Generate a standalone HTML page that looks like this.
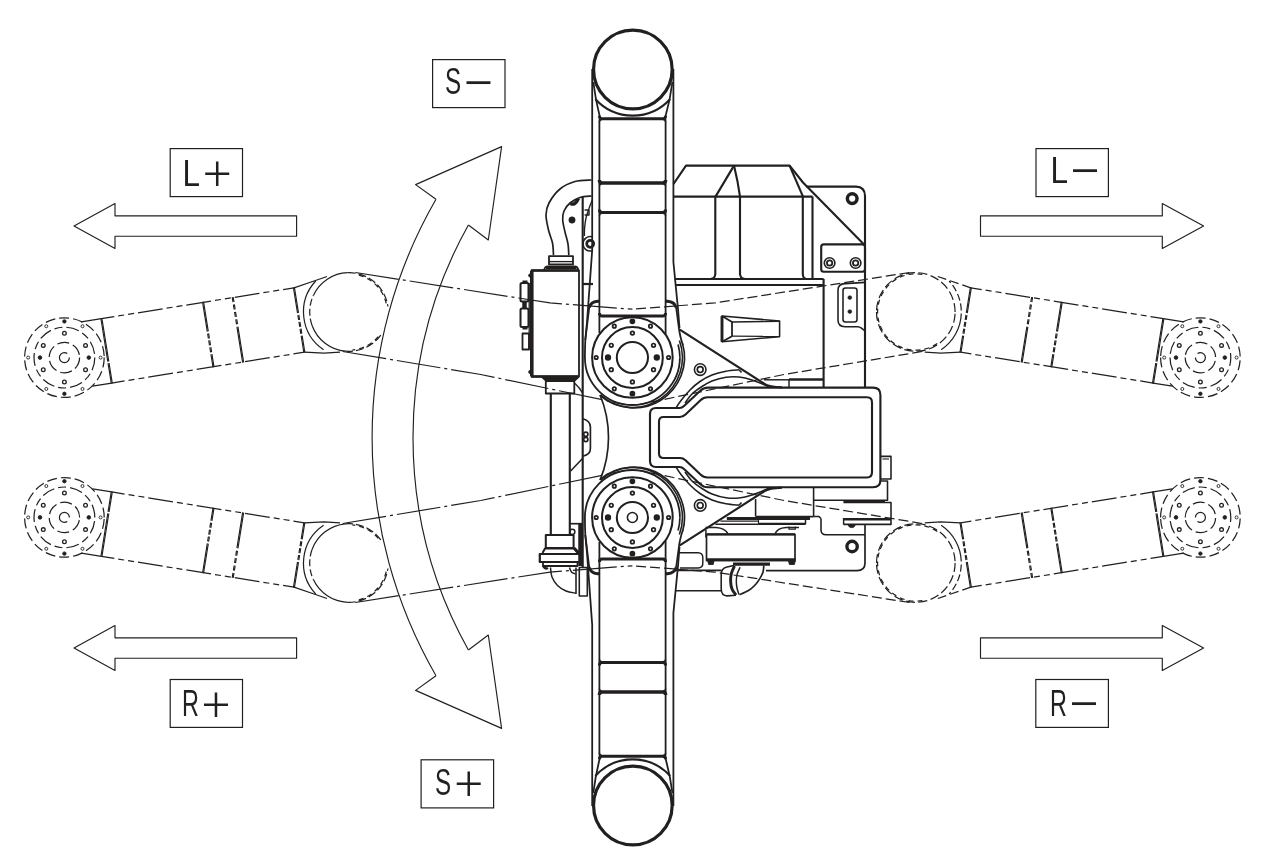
<!DOCTYPE html>
<html lang="ja"><head><meta charset="utf-8"><title>S / L / R axis motion</title>
<style>
html,body{margin:0;padding:0;background:#fff}
svg{display:block;will-change:transform}
.t{font-family:"Liberation Sans","IPAGothic",sans-serif;font-size:37px;fill:#221f1f}
.s{font-size:35px}
</style></head><body>
<svg width="1270" height="867" viewBox="0 0 1270 867">
<rect width="1270" height="867" fill="#fff"/>
<g fill="none" stroke="#221f1f" stroke-linecap="butt" stroke-linejoin="round">
<g class="ph">
<path d="M355.34 272.51 L549.98 302.94 L632.4 309.23" stroke-width="1.22" stroke-dasharray="44 4 3 4"/>
<path d="M342.66 351.49 L480.76 374.48 L624.87 404.4" stroke-width="1.22" stroke-dasharray="44 4 3 4"/>
<path d="M345.57 351.15 A39.3 39.3 0 0 1 312.07 325.44" stroke-width="1.22" />
<path d="M312.07 325.44 A39.3 39.3 0 0 1 313.38 295.39" stroke-width="1.22" stroke-dasharray="7 3"/>
<path d="M313.38 295.39 A39.3 39.3 0 0 1 347.63 272.72" stroke-width="1.22" />
<path d="M347.63 272.72 A39.3 39.3 0 0 1 387.92 306.53" stroke-width="1.22" stroke-dasharray="8 3"/>
<path d="M358.89 275.1 A38.2 38.2 0 0 1 386.62 305.37" stroke-width="1.22" stroke-dasharray="5 4"/>
<path d="M380.79 335.1 A39.3 39.3 0 0 1 345.57 351.15" stroke-width="1.22" stroke-dasharray="8 3"/>
<path d="M378.26 336.55 A38.2 38.2 0 0 1 352.33 350.05" stroke-width="1.22" stroke-dasharray="5 4"/>
<path d="M323.62 349.77 A45.5 45.5 0 0 1 315.67 281.03" stroke-width="1.22" />
<path d="M293.98 287.8 L101.43 318.65" stroke-width="1.22" stroke-dasharray="25 4 6 4 6 4" stroke-dashoffset="14"/>
<path d="M304.29 352.18 L111.75 383.03" stroke-width="1.22" stroke-dasharray="25 4 6 4 6 4" stroke-dashoffset="14"/>
<path d="M293.98 287.8 L314 281 L327 276.5" stroke-width="1.22" />
<path d="M304.29 352.18 L324 353.2 L340 352.2" stroke-width="1.22" />
<path d="M101.43 318.65 L81.19 321.89" stroke-width="1.22" />
<path d="M111.75 383.03 L92.49 386.11" stroke-width="1.22" />
<path d="M294.39 287.23 L304.87 352.59" stroke-width="1.15" stroke-dasharray="26 2 5 2 5 2 5 2 50"/>
<path d="M293.41 287.39 L303.88 352.75" stroke-width="1.15" stroke-dasharray="26 2 5 2 5 2 5 2 50"/>
<path d="M233.17 297.04 L243.65 362.4" stroke-width="1.15" stroke-dasharray="5 2.5 5 2.5 5 2.5 5 2.5 60"/>
<path d="M232.19 297.19 L242.66 362.56" stroke-width="1.15" stroke-dasharray="5 2.5 5 2.5 5 2.5 5 2.5 60"/>
<path d="M203.55 301.78 L214.03 367.15" stroke-width="1.15" stroke-dasharray="30 2 5 2 5 2 5 2 50"/>
<path d="M202.56 301.94 L213.04 367.31" stroke-width="1.15" stroke-dasharray="30 2 5 2 5 2 5 2 50"/>
<path d="M101.85 318.08 L112.32 383.44" stroke-width="1.15" stroke-dasharray="44 1.5 60"/>
<path d="M100.86 318.24 L111.33 383.6" stroke-width="1.15" stroke-dasharray="44 1.5 60"/>
<circle cx="64.4" cy="357.6" r="39.8" stroke-width="1.22" stroke-dasharray="10 4"/>
<circle cx="64.4" cy="357.6" r="30.4" stroke-width="1.22" stroke-dasharray="13 4 8 4"/>
<circle cx="64.4" cy="357.6" r="15.2" stroke-width="1.22" stroke-dasharray="12 4"/>
<circle cx="64.4" cy="357.6" r="5" stroke-width="1.22" stroke-dasharray="26 6"/>
<circle cx="100.6" cy="357.6" r="1.5" stroke-width="0.9" />
<circle cx="82.5" cy="326.25" r="1.5" stroke-width="0.9" />
<circle cx="64.4" cy="321.4" r="1.7" stroke-width="0.9" fill="#221f1f"/>
<circle cx="46.3" cy="326.25" r="1.5" stroke-width="0.9" />
<circle cx="28.2" cy="357.6" r="1.5" stroke-width="0.9" />
<circle cx="46.3" cy="388.95" r="1.5" stroke-width="0.9" />
<circle cx="64.4" cy="393.8" r="1.7" stroke-width="0.9" fill="#221f1f"/>
<circle cx="82.5" cy="388.95" r="1.5" stroke-width="0.9" />
<circle cx="88.8" cy="357.6" r="1.8" stroke-width="0.9" fill="#221f1f"/>
<circle cx="85.53" cy="345.4" r="1.85" stroke-width="1.3" />
<circle cx="64.4" cy="333.2" r="1.85" stroke-width="1.3" />
<circle cx="43.27" cy="345.4" r="1.85" stroke-width="1.3" />
<circle cx="40" cy="357.6" r="1.8" stroke-width="0.9" fill="#221f1f"/>
<circle cx="43.27" cy="369.8" r="1.85" stroke-width="1.3" />
<circle cx="64.4" cy="382" r="1.85" stroke-width="1.3" />
<circle cx="85.53" cy="369.8" r="1.85" stroke-width="1.3" />
</g>
<g class="ph" transform="translate(0,875) scale(1,-1)">
<path d="M355.34 272.51 L549.98 302.94 L632.4 309.23" stroke-width="1.22" stroke-dasharray="44 4 3 4"/>
<path d="M342.66 351.49 L480.76 374.48 L624.87 404.4" stroke-width="1.22" stroke-dasharray="44 4 3 4"/>
<path d="M345.57 351.15 A39.3 39.3 0 0 1 312.07 325.44" stroke-width="1.22" />
<path d="M312.07 325.44 A39.3 39.3 0 0 1 313.38 295.39" stroke-width="1.22" stroke-dasharray="7 3"/>
<path d="M313.38 295.39 A39.3 39.3 0 0 1 347.63 272.72" stroke-width="1.22" />
<path d="M347.63 272.72 A39.3 39.3 0 0 1 387.92 306.53" stroke-width="1.22" stroke-dasharray="8 3"/>
<path d="M358.89 275.1 A38.2 38.2 0 0 1 386.62 305.37" stroke-width="1.22" stroke-dasharray="5 4"/>
<path d="M380.79 335.1 A39.3 39.3 0 0 1 345.57 351.15" stroke-width="1.22" stroke-dasharray="8 3"/>
<path d="M378.26 336.55 A38.2 38.2 0 0 1 352.33 350.05" stroke-width="1.22" stroke-dasharray="5 4"/>
<path d="M323.62 349.77 A45.5 45.5 0 0 1 315.67 281.03" stroke-width="1.22" />
<path d="M293.98 287.8 L101.43 318.65" stroke-width="1.22" stroke-dasharray="25 4 6 4 6 4" stroke-dashoffset="14"/>
<path d="M304.29 352.18 L111.75 383.03" stroke-width="1.22" stroke-dasharray="25 4 6 4 6 4" stroke-dashoffset="14"/>
<path d="M293.98 287.8 L314 281 L327 276.5" stroke-width="1.22" />
<path d="M304.29 352.18 L324 353.2 L340 352.2" stroke-width="1.22" />
<path d="M101.43 318.65 L81.19 321.89" stroke-width="1.22" />
<path d="M111.75 383.03 L92.49 386.11" stroke-width="1.22" />
<path d="M294.39 287.23 L304.87 352.59" stroke-width="1.15" stroke-dasharray="26 2 5 2 5 2 5 2 50"/>
<path d="M293.41 287.39 L303.88 352.75" stroke-width="1.15" stroke-dasharray="26 2 5 2 5 2 5 2 50"/>
<path d="M233.17 297.04 L243.65 362.4" stroke-width="1.15" stroke-dasharray="5 2.5 5 2.5 5 2.5 5 2.5 60"/>
<path d="M232.19 297.19 L242.66 362.56" stroke-width="1.15" stroke-dasharray="5 2.5 5 2.5 5 2.5 5 2.5 60"/>
<path d="M203.55 301.78 L214.03 367.15" stroke-width="1.15" stroke-dasharray="30 2 5 2 5 2 5 2 50"/>
<path d="M202.56 301.94 L213.04 367.31" stroke-width="1.15" stroke-dasharray="30 2 5 2 5 2 5 2 50"/>
<path d="M101.85 318.08 L112.32 383.44" stroke-width="1.15" stroke-dasharray="44 1.5 60"/>
<path d="M100.86 318.24 L111.33 383.6" stroke-width="1.15" stroke-dasharray="44 1.5 60"/>
<circle cx="64.4" cy="357.6" r="39.8" stroke-width="1.22" stroke-dasharray="10 4"/>
<circle cx="64.4" cy="357.6" r="30.4" stroke-width="1.22" stroke-dasharray="13 4 8 4"/>
<circle cx="64.4" cy="357.6" r="15.2" stroke-width="1.22" stroke-dasharray="12 4"/>
<circle cx="64.4" cy="357.6" r="5" stroke-width="1.22" stroke-dasharray="26 6"/>
<circle cx="100.6" cy="357.6" r="1.5" stroke-width="0.9" />
<circle cx="82.5" cy="326.25" r="1.5" stroke-width="0.9" />
<circle cx="64.4" cy="321.4" r="1.7" stroke-width="0.9" fill="#221f1f"/>
<circle cx="46.3" cy="326.25" r="1.5" stroke-width="0.9" />
<circle cx="28.2" cy="357.6" r="1.5" stroke-width="0.9" />
<circle cx="46.3" cy="388.95" r="1.5" stroke-width="0.9" />
<circle cx="64.4" cy="393.8" r="1.7" stroke-width="0.9" fill="#221f1f"/>
<circle cx="82.5" cy="388.95" r="1.5" stroke-width="0.9" />
<circle cx="88.8" cy="357.6" r="1.8" stroke-width="0.9" fill="#221f1f"/>
<circle cx="85.53" cy="345.4" r="1.85" stroke-width="1.3" />
<circle cx="64.4" cy="333.2" r="1.85" stroke-width="1.3" />
<circle cx="43.27" cy="345.4" r="1.85" stroke-width="1.3" />
<circle cx="40" cy="357.6" r="1.8" stroke-width="0.9" fill="#221f1f"/>
<circle cx="43.27" cy="369.8" r="1.85" stroke-width="1.3" />
<circle cx="64.4" cy="382" r="1.85" stroke-width="1.3" />
<circle cx="85.53" cy="369.8" r="1.85" stroke-width="1.3" />
</g>
<g class="ph2" transform="translate(1264.8,0) scale(-1,1)">
<path d="M355.34 272.51 L549.98 302.94 L632.4 309.23" stroke-width="1.22" stroke-dasharray="10 4"/>
<path d="M342.66 351.49 L480.76 374.48 L624.87 404.4" stroke-width="1.22" stroke-dasharray="10 4"/>
<path d="M388.3 312 A39.3 39.3 0 0 1 309.7 312" stroke-width="1.22" stroke-dasharray="9 3.5"/>
<path d="M309.7 312 A39.3 39.3 0 0 1 388.3 311.93" stroke-width="1.22" stroke-dasharray="9 3.5"/>
<path d="M342.37 274.38 A38.2 38.2 0 1 1 324.45 341.26" stroke-width="1.22" stroke-dasharray="5 4"/>
<path d="M323.62 349.77 A45.5 45.5 0 0 1 315.67 281.03" stroke-width="1.22" stroke-dasharray="43 3 7 3 7 3 7 3 7 3"/>
<path d="M293.98 287.8 L101.43 318.65" stroke-width="1.22" stroke-dasharray="25 4 6 4 6 4" stroke-dashoffset="14"/>
<path d="M304.29 352.18 L111.75 383.03" stroke-width="1.22" stroke-dasharray="25 4 6 4 6 4" stroke-dashoffset="14"/>
<path d="M293.98 287.8 L314 281 L327 276.5" stroke-width="1.22" stroke-dasharray="9 4"/>
<path d="M304.29 352.18 L324 353.2 L340 352.2" stroke-width="1.22" />
<path d="M101.43 318.65 L81.19 321.89" stroke-width="1.22" />
<path d="M111.75 383.03 L92.49 386.11" stroke-width="1.22" />
<path d="M294.39 287.23 L304.87 352.59" stroke-width="1.15" stroke-dasharray="26 2 5 2 5 2 5 2 50"/>
<path d="M293.41 287.39 L303.88 352.75" stroke-width="1.15" stroke-dasharray="26 2 5 2 5 2 5 2 50"/>
<path d="M233.17 297.04 L243.65 362.4" stroke-width="1.15" stroke-dasharray="5 2.5 5 2.5 5 2.5 5 2.5 60"/>
<path d="M232.19 297.19 L242.66 362.56" stroke-width="1.15" stroke-dasharray="5 2.5 5 2.5 5 2.5 5 2.5 60"/>
<path d="M203.55 301.78 L214.03 367.15" stroke-width="1.15" stroke-dasharray="30 2 5 2 5 2 5 2 50"/>
<path d="M202.56 301.94 L213.04 367.31" stroke-width="1.15" stroke-dasharray="30 2 5 2 5 2 5 2 50"/>
<path d="M101.85 318.08 L112.32 383.44" stroke-width="1.15" stroke-dasharray="44 1.5 60"/>
<path d="M100.86 318.24 L111.33 383.6" stroke-width="1.15" stroke-dasharray="44 1.5 60"/>
<circle cx="64.4" cy="357.6" r="39.8" stroke-width="1.22" stroke-dasharray="10 4"/>
<circle cx="64.4" cy="357.6" r="30.4" stroke-width="1.22" stroke-dasharray="13 4 8 4"/>
<circle cx="64.4" cy="357.6" r="15.2" stroke-width="1.22" stroke-dasharray="12 4"/>
<circle cx="64.4" cy="357.6" r="5" stroke-width="1.22" stroke-dasharray="26 6"/>
<circle cx="100.6" cy="357.6" r="1.5" stroke-width="0.9" />
<circle cx="82.5" cy="326.25" r="1.5" stroke-width="0.9" />
<circle cx="64.4" cy="321.4" r="1.7" stroke-width="0.9" fill="#221f1f"/>
<circle cx="46.3" cy="326.25" r="1.5" stroke-width="0.9" />
<circle cx="28.2" cy="357.6" r="1.5" stroke-width="0.9" />
<circle cx="46.3" cy="388.95" r="1.5" stroke-width="0.9" />
<circle cx="64.4" cy="393.8" r="1.7" stroke-width="0.9" fill="#221f1f"/>
<circle cx="82.5" cy="388.95" r="1.5" stroke-width="0.9" />
<circle cx="88.8" cy="357.6" r="1.8" stroke-width="0.9" fill="#221f1f"/>
<circle cx="85.53" cy="345.4" r="1.85" stroke-width="1.3" />
<circle cx="64.4" cy="333.2" r="1.85" stroke-width="1.3" />
<circle cx="43.27" cy="345.4" r="1.85" stroke-width="1.3" />
<circle cx="40" cy="357.6" r="1.8" stroke-width="0.9" fill="#221f1f"/>
<circle cx="43.27" cy="369.8" r="1.85" stroke-width="1.3" />
<circle cx="64.4" cy="382" r="1.85" stroke-width="1.3" />
<circle cx="85.53" cy="369.8" r="1.85" stroke-width="1.3" />
</g>
<g class="ph2" transform="translate(1264.8,875) scale(-1,-1)">
<path d="M355.34 272.51 L549.98 302.94 L632.4 309.23" stroke-width="1.22" stroke-dasharray="10 4"/>
<path d="M342.66 351.49 L480.76 374.48 L624.87 404.4" stroke-width="1.22" stroke-dasharray="10 4"/>
<path d="M388.3 312 A39.3 39.3 0 0 1 309.7 312" stroke-width="1.22" stroke-dasharray="9 3.5"/>
<path d="M309.7 312 A39.3 39.3 0 0 1 388.3 311.93" stroke-width="1.22" stroke-dasharray="9 3.5"/>
<path d="M342.37 274.38 A38.2 38.2 0 1 1 324.45 341.26" stroke-width="1.22" stroke-dasharray="5 4"/>
<path d="M323.62 349.77 A45.5 45.5 0 0 1 315.67 281.03" stroke-width="1.22" stroke-dasharray="43 3 7 3 7 3 7 3 7 3"/>
<path d="M293.98 287.8 L101.43 318.65" stroke-width="1.22" stroke-dasharray="25 4 6 4 6 4" stroke-dashoffset="14"/>
<path d="M304.29 352.18 L111.75 383.03" stroke-width="1.22" stroke-dasharray="25 4 6 4 6 4" stroke-dashoffset="14"/>
<path d="M293.98 287.8 L314 281 L327 276.5" stroke-width="1.22" stroke-dasharray="9 4"/>
<path d="M304.29 352.18 L324 353.2 L340 352.2" stroke-width="1.22" />
<path d="M101.43 318.65 L81.19 321.89" stroke-width="1.22" />
<path d="M111.75 383.03 L92.49 386.11" stroke-width="1.22" />
<path d="M294.39 287.23 L304.87 352.59" stroke-width="1.15" stroke-dasharray="26 2 5 2 5 2 5 2 50"/>
<path d="M293.41 287.39 L303.88 352.75" stroke-width="1.15" stroke-dasharray="26 2 5 2 5 2 5 2 50"/>
<path d="M233.17 297.04 L243.65 362.4" stroke-width="1.15" stroke-dasharray="5 2.5 5 2.5 5 2.5 5 2.5 60"/>
<path d="M232.19 297.19 L242.66 362.56" stroke-width="1.15" stroke-dasharray="5 2.5 5 2.5 5 2.5 5 2.5 60"/>
<path d="M203.55 301.78 L214.03 367.15" stroke-width="1.15" stroke-dasharray="30 2 5 2 5 2 5 2 50"/>
<path d="M202.56 301.94 L213.04 367.31" stroke-width="1.15" stroke-dasharray="30 2 5 2 5 2 5 2 50"/>
<path d="M101.85 318.08 L112.32 383.44" stroke-width="1.15" stroke-dasharray="44 1.5 60"/>
<path d="M100.86 318.24 L111.33 383.6" stroke-width="1.15" stroke-dasharray="44 1.5 60"/>
<circle cx="64.4" cy="357.6" r="39.8" stroke-width="1.22" stroke-dasharray="10 4"/>
<circle cx="64.4" cy="357.6" r="30.4" stroke-width="1.22" stroke-dasharray="13 4 8 4"/>
<circle cx="64.4" cy="357.6" r="15.2" stroke-width="1.22" stroke-dasharray="12 4"/>
<circle cx="64.4" cy="357.6" r="5" stroke-width="1.22" stroke-dasharray="26 6"/>
<circle cx="100.6" cy="357.6" r="1.5" stroke-width="0.9" />
<circle cx="82.5" cy="326.25" r="1.5" stroke-width="0.9" />
<circle cx="64.4" cy="321.4" r="1.7" stroke-width="0.9" fill="#221f1f"/>
<circle cx="46.3" cy="326.25" r="1.5" stroke-width="0.9" />
<circle cx="28.2" cy="357.6" r="1.5" stroke-width="0.9" />
<circle cx="46.3" cy="388.95" r="1.5" stroke-width="0.9" />
<circle cx="64.4" cy="393.8" r="1.7" stroke-width="0.9" fill="#221f1f"/>
<circle cx="82.5" cy="388.95" r="1.5" stroke-width="0.9" />
<circle cx="88.8" cy="357.6" r="1.8" stroke-width="0.9" fill="#221f1f"/>
<circle cx="85.53" cy="345.4" r="1.85" stroke-width="1.3" />
<circle cx="64.4" cy="333.2" r="1.85" stroke-width="1.3" />
<circle cx="43.27" cy="345.4" r="1.85" stroke-width="1.3" />
<circle cx="40" cy="357.6" r="1.8" stroke-width="0.9" fill="#221f1f"/>
<circle cx="43.27" cy="369.8" r="1.85" stroke-width="1.3" />
<circle cx="64.4" cy="382" r="1.85" stroke-width="1.3" />
<circle cx="85.53" cy="369.8" r="1.85" stroke-width="1.3" />
</g>
<path d="M436 199.3 A476 476 0 0 0 436 675.7" stroke-width="1.15" />
<path d="M468.4 225 A435.3 435.3 0 0 0 468.4 650" stroke-width="1.15" />
<path d="M436 199.3 L415.6 184.6 L501.6 146.6 L488.3 240 L468.4 225" stroke-width="1.15" />
<path d="M436 675.7 L415.6 690.4 L501.6 728.4 L488.3 635 L468.4 650" stroke-width="1.15" />
<path d="M74 226 L115 203.5 L115 215.8 L296.6 215.8 L296.6 236.2 L115 236.2 L115 248.5 Z" stroke-width="1.15" />
<path d="M74 648 L115 625.5 L115 637.8 L296.6 637.8 L296.6 658.2 L115 658.2 L115 670.5 Z" stroke-width="1.15" />
<path d="M1203.6 226 L1162.3 203.5 L1162.3 215.8 L980.5 215.8 L980.5 236.2 L1162.3 236.2 L1162.3 248.5 Z" stroke-width="1.15" />
<path d="M1203.6 648 L1162.3 625.5 L1162.3 637.8 L980.5 637.8 L980.5 658.2 L1162.3 658.2 L1162.3 670.5 Z" stroke-width="1.15" />
<g class="arm">
<circle cx="632.85" cy="69.5" r="39.3" stroke-width="3.19" />
<path d="M592.2 69 L592.2 250 L587 322 L585.3 340" stroke-width="1.79" />
<path d="M673.4 69 L673.4 262 L678 309 L679.5 328" stroke-width="1.79" />
<path d="M593.3 82 Q595.5 100 600 117.5 L599.4 121 V333" stroke-width="1.79" />
<path d="M672.4 82 Q670.2 100 665.2 117.5 L665.6 121 V334" stroke-width="1.79" />
<path d="M595.3 99 A50.5 50.5 0 0 0 670.2 99" stroke-width="2.02" />
<path d="M599.4 115.8 Q599.4 118.8 602 118.8 H662.8 Q665.6 118.8 665.6 115.8" stroke-width="2.91" />
<path d="M599.4 122.3 Q599.4 119.6 602 119.6 M662.8 119.6 Q665.6 119.6 665.6 122.3" stroke-width="1.34" />
<path d="M599.4 180 Q599.4 183 602 183 H662.8 Q665.6 183 665.6 180" stroke-width="3.47" />
<path d="M599.4 186.5 Q599.4 183.8 602 183.8 M662.8 183.8 Q665.6 183.8 665.6 186.5" stroke-width="1.34" />
<path d="M599.4 209.6 Q599.4 212.6 602 212.6 H662.8 Q665.6 212.6 665.6 209.6" stroke-width="3.02" />
<path d="M599.4 216.1 Q599.4 213.4 602 213.4 M662.8 213.4 Q665.6 213.4 665.6 216.1" stroke-width="1.34" />
<path d="M599.4 313 Q599.4 316 602 316 H662.8 Q665.6 316 665.6 313" stroke-width="2.91" />
</g>
<g class="arm" transform="translate(0,875) scale(1,-1)">
<circle cx="632.85" cy="69.5" r="39.3" stroke-width="3.19" />
<path d="M592.2 69 L592.2 250 L587 322 L585.3 340" stroke-width="1.79" />
<path d="M673.4 69 L673.4 262 L678 309 L679.5 328" stroke-width="1.79" />
<path d="M593.3 82 Q595.5 100 600 117.5 L599.4 121 V333" stroke-width="1.79" />
<path d="M672.4 82 Q670.2 100 665.2 117.5 L665.6 121 V334" stroke-width="1.79" />
<path d="M595.3 99 A50.5 50.5 0 0 0 670.2 99" stroke-width="2.02" />
<path d="M599.4 115.8 Q599.4 118.8 602 118.8 H662.8 Q665.6 118.8 665.6 115.8" stroke-width="2.91" />
<path d="M599.4 122.3 Q599.4 119.6 602 119.6 M662.8 119.6 Q665.6 119.6 665.6 122.3" stroke-width="1.34" />
<path d="M599.4 180 Q599.4 183 602 183 H662.8 Q665.6 183 665.6 180" stroke-width="3.47" />
<path d="M599.4 186.5 Q599.4 183.8 602 183.8 M662.8 183.8 Q665.6 183.8 665.6 186.5" stroke-width="1.34" />
<path d="M599.4 209.6 Q599.4 212.6 602 212.6 H662.8 Q665.6 212.6 665.6 209.6" stroke-width="3.02" />
<path d="M599.4 216.1 Q599.4 213.4 602 213.4 M662.8 213.4 Q665.6 213.4 665.6 216.1" stroke-width="1.34" />
<path d="M599.4 313 Q599.4 316 602 316 H662.8 Q665.6 316 665.6 313" stroke-width="2.91" />
</g>
<g class="yoke">
<path d="M599.4 301.3 H597.5 Q589.6 301.8 589 309.5 L585.3 340 Q584.9 350 584.9 357.5 A47.5 47.5 0 0 0 679.9 357.5" stroke-width="1.79" />
<path d="M665.1 301.3 H667.5 Q675.6 301.8 676.4 309.5 L679.3 331 Q681 340 682.9 345" stroke-width="1.79" />
<path d="M599 301.3 H597.5 Q590.6 301.8 589.4 307.5" stroke-width="2.91" />
<path d="M665.5 301.3 H667.5 Q674.6 301.8 676 307.5" stroke-width="2.91" />
<path d="M682.55 343.61 A50.4 50.4 0 0 1 600.38 394.95" stroke-width="1.68" />
<path d="M679.38 340.4 A50 50 0 0 1 599.6 395.24" stroke-width="1.57" />
<path d="M678.06 344.41 A47.5 47.5 0 0 1 679.9 357.5" stroke-width="1.68" />
<circle cx="632.4" cy="357.5" r="40.3" stroke-width="2.02" />
<circle cx="632.4" cy="357.5" r="30.4" stroke-width="2.02" />
<circle cx="632.4" cy="357.5" r="15.6" stroke-width="2.02" />
<circle cx="668.6" cy="357.5" r="1.7" stroke-width="1.74" />
<circle cx="650.5" cy="326.15" r="1.7" stroke-width="1.74" />
<circle cx="632.4" cy="321.3" r="2" stroke-width="1.74" fill="#221f1f"/>
<circle cx="614.3" cy="326.15" r="1.7" stroke-width="1.74" />
<circle cx="596.2" cy="357.5" r="1.7" stroke-width="1.74" />
<circle cx="614.3" cy="388.85" r="1.7" stroke-width="1.74" />
<circle cx="632.4" cy="393.7" r="2" stroke-width="1.74" fill="#221f1f"/>
<circle cx="650.5" cy="388.85" r="1.7" stroke-width="1.74" />
<circle cx="656.8" cy="357.5" r="2.3" stroke-width="1.74" fill="#221f1f"/>
<circle cx="653.53" cy="345.3" r="1.8" stroke-width="1.74" />
<circle cx="632.4" cy="333.1" r="1.8" stroke-width="1.74" />
<circle cx="611.27" cy="345.3" r="1.8" stroke-width="1.74" />
<circle cx="608" cy="357.5" r="2.3" stroke-width="1.74" fill="#221f1f"/>
<circle cx="611.27" cy="369.7" r="1.8" stroke-width="1.74" />
<circle cx="632.4" cy="381.9" r="1.8" stroke-width="1.74" />
<circle cx="653.53" cy="369.7" r="1.8" stroke-width="1.74" />
</g>
<g class="yoke" transform="translate(0,875) scale(1,-1)">
<path d="M599.4 301.3 H597.5 Q589.6 301.8 589 309.5 L585.3 340 Q584.9 350 584.9 357.5 A47.5 47.5 0 0 0 679.9 357.5" stroke-width="1.79" />
<path d="M665.1 301.3 H667.5 Q675.6 301.8 676.4 309.5 L679.3 331 Q681 340 682.9 345" stroke-width="1.79" />
<path d="M599 301.3 H597.5 Q590.6 301.8 589.4 307.5" stroke-width="2.91" />
<path d="M665.5 301.3 H667.5 Q674.6 301.8 676 307.5" stroke-width="2.91" />
<path d="M682.55 343.61 A50.4 50.4 0 0 1 600.38 394.95" stroke-width="1.68" />
<path d="M679.38 340.4 A50 50 0 0 1 599.6 395.24" stroke-width="1.57" />
<path d="M678.06 344.41 A47.5 47.5 0 0 1 679.9 357.5" stroke-width="1.68" />
<circle cx="632.4" cy="357.5" r="40.3" stroke-width="2.02" />
<circle cx="632.4" cy="357.5" r="30.4" stroke-width="2.02" />
<circle cx="632.4" cy="357.5" r="15.6" stroke-width="2.02" />
<circle cx="668.6" cy="357.5" r="1.7" stroke-width="1.74" />
<circle cx="650.5" cy="326.15" r="1.7" stroke-width="1.74" />
<circle cx="632.4" cy="321.3" r="2" stroke-width="1.74" fill="#221f1f"/>
<circle cx="614.3" cy="326.15" r="1.7" stroke-width="1.74" />
<circle cx="596.2" cy="357.5" r="1.7" stroke-width="1.74" />
<circle cx="614.3" cy="388.85" r="1.7" stroke-width="1.74" />
<circle cx="632.4" cy="393.7" r="2" stroke-width="1.74" fill="#221f1f"/>
<circle cx="650.5" cy="388.85" r="1.7" stroke-width="1.74" />
<circle cx="656.8" cy="357.5" r="2.3" stroke-width="1.74" fill="#221f1f"/>
<circle cx="653.53" cy="345.3" r="1.8" stroke-width="1.74" />
<circle cx="632.4" cy="333.1" r="1.8" stroke-width="1.74" />
<circle cx="611.27" cy="345.3" r="1.8" stroke-width="1.74" />
<circle cx="608" cy="357.5" r="2.3" stroke-width="1.74" fill="#221f1f"/>
<circle cx="611.27" cy="369.7" r="1.8" stroke-width="1.74" />
<circle cx="632.4" cy="381.9" r="1.8" stroke-width="1.74" />
<circle cx="653.53" cy="369.7" r="1.8" stroke-width="1.74" />
</g>
<circle cx="632.4" cy="517.5" r="5" stroke-width="1.57" />
<g class="web">
<path d="M679.8 329.6 L764 383.5 Q769 387 782 387.4" stroke-width="2.13" />
<circle cx="700.2" cy="369.6" r="5.8" stroke-width="1.57" />
<circle cx="700.2" cy="369.6" r="2.9" stroke-width="1.68" />
<path d="M739 369.8 C736.83 370.03 730.5 370.33 726 371.2 C721.5 372.07 716.33 373.28 712 375 C707.67 376.72 703.67 379 700 381.5 C696.33 384 693.17 386.83 690 390 C686.83 393.17 683.33 397.5 681 400.5 C678.67 403.5 676.83 406.75 676 408" stroke-width="1.57" />
<path d="M770 387.2 C767 386 757.17 381.7 752 380 C746.83 378.3 743.33 377.47 739 377 C734.67 376.53 730.5 376.53 726 377.2 C721.5 377.87 716 379.45 712 381 C708 382.55 705.33 384.33 702 386.5 C698.67 388.67 694.83 391.25 692 394 C689.17 396.75 686.17 401.5 685 403" stroke-width="1.57" />
<path d="M739 369.8 L741.5 372.5" stroke-width="1.57" />
</g>
<g class="web" transform="translate(0,875) scale(1,-1)">
<path d="M679.8 329.6 L764 383.5 Q769 387 782 387.4" stroke-width="2.13" />
<circle cx="700.2" cy="369.6" r="5.8" stroke-width="1.57" />
<circle cx="700.2" cy="369.6" r="2.9" stroke-width="1.68" />
<path d="M739 369.8 C736.83 370.03 730.5 370.33 726 371.2 C721.5 372.07 716.33 373.28 712 375 C707.67 376.72 703.67 379 700 381.5 C696.33 384 693.17 386.83 690 390 C686.83 393.17 683.33 397.5 681 400.5 C678.67 403.5 676.83 406.75 676 408" stroke-width="1.57" />
<path d="M770 387.2 C767 386 757.17 381.7 752 380 C746.83 378.3 743.33 377.47 739 377 C734.67 376.53 730.5 376.53 726 377.2 C721.5 377.87 716 379.45 712 381 C708 382.55 705.33 384.33 702 386.5 C698.67 388.67 694.83 391.25 692 394 C689.17 396.75 686.17 401.5 685 403" stroke-width="1.57" />
<path d="M739 369.8 L741.5 372.5" stroke-width="1.57" />
</g>
<path d="M673.5 184 L686 165.6 L789.6 165.6 L803 182.5 L864.5 245" stroke-width="2.13" />
<path d="M673.5 196.6 L812.5 196.6" stroke-width="2.13" />
<path d="M789.6 165.6 L803 196.6" stroke-width="2.13" />
<path d="M734 165.6 L715.5 196.6" stroke-width="2.13" />
<path d="M734 165.6 Q738 182 740 196.6" stroke-width="2.13" />
<path d="M715.3 196.6 V274 Q715 278.6 711 278.8" stroke-width="2.13" />
<path d="M740 196.6 V274 Q740.4 278.6 744.5 278.8" stroke-width="2.13" />
<path d="M802.8 196.6 V274 Q803 278.6 806 278.8" stroke-width="2.13" />
<path d="M812.5 196.6 V279" stroke-width="2.13" />
<path d="M674.5 279 H823.6" stroke-width="1.79" />
<path d="M675.5 285 H823.6" stroke-width="1.79" />
<path d="M823.6 279 V387" stroke-width="2.13" />
<path d="M806.5 186.6 H856 Q865 186.8 865 196 V387" stroke-width="2.13" />
<circle cx="852.2" cy="198.6" r="4.85" stroke-width="3.47" />
<path d="M823.7 244.4 H862.5 Q865 244.4 865 246.9 V269.3 Q865 271.8 862.5 271.8 H823.7 Q821.2 271.8 821.2 269.3 V246.9 Q821.2 244.4 823.7 244.4 Z" stroke-width="2.13" />
<circle cx="829.6" cy="263" r="5.3" stroke-width="1.62" />
<circle cx="829.6" cy="263" r="2.7" stroke-width="1.79" />
<circle cx="855.6" cy="263" r="5.3" stroke-width="1.62" />
<circle cx="855.6" cy="263" r="2.7" stroke-width="1.79" />
<path d="M865 282.4 L845 283.6 Q838 284 838 290 V320 Q838 326.5 845 326.7 H858 Q861 327 865 331" stroke-width="1.57" />
<path d="M845.5 288 H854.5 Q857 288 857 290.5 V319.5 Q857 322 854.5 322 H845.5 Q843 322 843 319.5 V290.5 Q843 288 845.5 288 Z" stroke-width="1.57" />
<circle cx="849.8" cy="297.6" r="1.9" stroke-width="0.56" fill="#221f1f"/>
<circle cx="849.8" cy="311.6" r="1.9" stroke-width="0.56" fill="#221f1f"/>
<path d="M722 316 L779.6 321 L779.6 336.6 L722 341.8 Z" stroke-width="1.57" />
<path d="M722 316 L722 341.8" stroke-width="2.91" />
<path d="M732 322 L779.6 321.3" stroke-width="1.34" />
<path d="M732 336.2 L779.6 336.4" stroke-width="1.34" />
<path d="M732 322 L732 336.2" stroke-width="1.79" />
<path d="M722 316 L732 322" stroke-width="1.79" />
<path d="M722 341.8 L732 336.2" stroke-width="1.79" />
<path d="M764 379.8 H789" stroke-width="1.46" />
<path d="M789 379.4 H823.6" stroke-width="2.46" />
<path d="M789 379.8 V387.4" stroke-width="1.46" />
<path d="M656 408 H679.5 Q682 408 684 406 L700 391 Q703.5 387.6 708 387.6 H873 Q880.4 387.6 880.4 395 V480 Q880.4 487.3 873 487.3 H708 Q703.5 487.3 700 484 L684 469 Q682 467 679.5 467 H656 Q650 467 650 461 V414 Q650 408 656 408 Z" stroke-width="2.13" />
<path d="M663.5 417 H680 Q683 417 685.5 414.6 L700.5 400.2 Q703.5 397.3 707.5 397.3 H867 Q872 397.3 872 402.5 V472.3 Q872 477.5 867 477.5 H707.5 Q703.5 477.5 700.5 474.6 L685.5 460.2 Q683 458 680 458 H663.5 Q659 458 659 453.5 V421.5 Q659 417 663.5 417 Z" stroke-width="2.13" />
<path d="M591.6 180 C588.83 180.25 580.27 180 575 181.5 C569.73 183 564.33 185.42 560 189 C555.67 192.58 551.33 198.67 549 203 C546.67 207.33 546.08 210.5 546 215 C545.92 219.5 547.42 225.33 548.5 230 C549.58 234.67 551.67 238.78 552.5 243 C553.33 247.22 553.33 253.25 553.5 255.3" stroke-width="1.68" />
<path d="M591.6 196 C589.67 196.25 583.6 196.33 580 197.5 C576.4 198.67 572.67 200.75 570 203 C567.33 205.25 565.22 208.17 564 211 C562.78 213.83 562.53 216.5 562.7 220 C562.87 223.5 564.12 228 565 232 C565.88 236 567.37 240.12 568 244 C568.63 247.88 568.67 253.42 568.8 255.3" stroke-width="1.68" />
<circle cx="572" cy="220" r="3.2" stroke-width="0.56" fill="#221f1f"/>
<path d="M570.5 203.5 Q575 206 578.5 198.5" stroke-width="3.36" />
<path d="M592.06 250.75 A7.2 7.2 0 1 1 592.06 236.85" stroke-width="1.57" />
<circle cx="590.2" cy="243.8" r="3.5" stroke-width="2.69" />
<path d="M582.7 197 V567" stroke-width="2.13" />
<path d="M592.3 200 C591.83 201.17 590.55 204 589.5 207 C588.45 210 586.82 214.5 586 218 C585.18 221.5 584.87 225 584.6 228 C584.33 231 584.43 234.67 584.4 236" stroke-width="1.34" />
<path d="M584.6 210 H589 V215 H584.6" stroke-width="1.46" />
<rect x="549" y="256.2" width="24" height="8.2" rx="0" stroke-width="1.79" />
<path d="M549 261.6 H573" stroke-width="1.34" />
<path d="M544.2 270 Q544.5 266.5 548 266.3 H574.5 Q578 266.5 578.3 270" stroke-width="1.79" />
<path d="M546 267.8 H576.5" stroke-width="2.69" />
<path d="M531.8 270.5 L579 270.5 L579 376.5 L531.8 376.5 Z" stroke-width="1.79" />
<path d="M531.8 270.5 V376.5" stroke-width="3.58" />
<path d="M531 270.5 H579" stroke-width="2.46" />
<path d="M531 376.5 H579" stroke-width="2.46" />
<circle cx="530.3" cy="275.5" r="1.8" stroke-width="0.56" fill="#221f1f"/>
<circle cx="530.3" cy="372" r="1.8" stroke-width="0.56" fill="#221f1f"/>
<path d="M583 284 H593" stroke-width="2.24" />
<path d="M522 283 H527 Q528.5 283 528.5 284.5 V300 Q528.5 301.5 527 301.5 H522 Q520.5 301.5 520.5 300 V284.5 Q520.5 283 522 283 Z" stroke-width="2.02" />
<path d="M522 308.5 H527 Q528.5 308.5 528.5 310 V325.5 Q528.5 327 527 327 H522 Q520.5 327 520.5 325.5 V310 Q520.5 308.5 522 308.5 Z" stroke-width="2.02" />
<path d="M522.5 281.5 H527.5 M522.5 328.5 H527.5" stroke-width="2.24" />
<path d="M524.5 302 V308" stroke-width="4.48" />
<rect x="522.5" y="333.5" width="6.5" height="16" rx="0" stroke-width="1.79" />
<path d="M529.2 283 V350" stroke-width="1.34" />
<path d="M542.5 377.5 L546.5 381 H574 L578 377.5 Z" stroke-width="1.68" fill="#221f1f"/>
<rect x="545.8" y="381" width="28.5" height="12.5" rx="0" stroke-width="1.79" />
<path d="M574.5 383 Q580 388 582.5 393" stroke-width="1.34" />
<path d="M550.8 393.5 V535 M569.8 393.5 V535" stroke-width="2.13" />
<rect x="545.8" y="535" width="27.8" height="13" rx="0" stroke-width="2.02" />
<path d="M542.5 553 L545 548.5 H574 L577.5 553" stroke-width="2.02" />
<rect x="539.8" y="554" width="40.4" height="8" rx="0" stroke-width="2.24" />
<path d="M543 561.5 V566 H577.5 V561.5" stroke-width="1.79" />
<path d="M543 566 Q545 569.5 548 568 " stroke-width="2.46" />
<path d="M570 523.7 H582.6" stroke-width="1.68" />
<path d="M580.6 523.7 V566" stroke-width="4.7" />
<circle cx="572.3" cy="531.8" r="2.6" stroke-width="1.46" />
<path d="M574 548 L579 553" stroke-width="2.8" />
<path d="M550.5 567.5 C550.75 569.08 550.83 574 552 577 C553.17 580 555.17 583.17 557.5 585.5 C559.83 587.83 562.92 589.72 566 591 C569.08 592.28 574.33 592.83 576 593.2" stroke-width="1.46" />
<path d="M569.5 567.5 C569.83 568.25 570.5 570.92 571.5 572 C572.5 573.08 574.83 573.67 575.5 574" stroke-width="1.46" />
<path d="M576 567.5 V594" stroke-width="1.57" />
<rect x="579.3" y="567.5" width="8" height="28.5" rx="0" stroke-width="1.57" />
<path d="M600.2 395.2 A112 112 0 0 1 600.2 479.8" stroke-width="1.68" />
<path d="M570.6 471 L583 458" stroke-width="1.57" />
<path d="M583 418.8 Q590.4 421 590.4 427 V448.5 Q590.4 454.5 583 456.2" stroke-width="1.68" />
<circle cx="585.8" cy="434.3" r="2.1" stroke-width="1.68" />
<circle cx="585.8" cy="439.5" r="2.1" stroke-width="1.68" />
<path d="M755.6 499 V516.6 M813.6 487.3 V516.6" stroke-width="1.57" />
<path d="M755.6 516.6 H813.6" stroke-width="1.57" />
<path d="M813.6 516.6 H819 L821 518.5" stroke-width="1.46" />
<path d="M726.8 518.5 H810" stroke-width="3.14" />
<path d="M720.5 521.2 H758.5" stroke-width="1.34" />
<path d="M715.4 524.2 H758.5" stroke-width="1.46" />
<path d="M758.5 523.9 H805.5" stroke-width="2.24" />
<path d="M805.5 519 V524.4" stroke-width="1.46" />
<path d="M758.5 518.8 V524.4" stroke-width="1.12" />
<path d="M705.9 537.4 V529.8 M705.5 527.4 H716 Q725 528 728 533.8" stroke-width="1.46" />
<path d="M775 534 Q777 528 786 527.4 H799" stroke-width="1.46" />
<path d="M789 526.6 V529.2 H795.3 V526.6" stroke-width="1.23" />
<path d="M706.5 534.4 L795 534.4 L795 560.4 L706.5 560.4 Z" stroke-width="1.68" />
<path d="M706.5 534.4 H795" stroke-width="2.24" />
<path d="M706 559.8 H795.5" stroke-width="3.02" />
<path d="M707.8 561 L708.6 564.5 H713.2 L714 561 Z M788.6 561 L789.4 564.5 H794.4 L795.2 561 Z" stroke-width="0.9" fill="#221f1f"/>
<path d="M880.4 456.4 H891 V479 H880.4" stroke-width="1.57" />
<path d="M882.5 459 H889" stroke-width="1.12" />
<path d="M880.4 481 H887.5 V500.2 H813.6" stroke-width="1.57" />
<path d="M843.5 501.6 H885" stroke-width="1.68" />
<path d="M843.5 502.5 H891 V524.4 H843.5" stroke-width="1.57" />
<path d="M844 519.2 H891" stroke-width="2.58" />
<path d="M843.6 518 V524.6" stroke-width="1.46" />
<path d="M848.2 525 A3.6 3.6 0 0 0 855.2 525 Z" stroke-width="0.67" fill="#221f1f"/>
<path d="M821 518.5 V530 Q821 534.6 826 534.8 H865" stroke-width="1.57" />
<path d="M865 524.6 V563 Q865 570.6 857 570.6 H766" stroke-width="1.68" />
<circle cx="852.1" cy="546.5" r="5.2" stroke-width="3.36" />
<path d="M733 564.1 H770" stroke-width="3.14" />
<path d="M763.8 565.5 C763.67 566.58 763.67 569.8 763 572 C762.33 574.2 760.97 576.7 759.8 578.7 C758.63 580.7 757.48 582.32 756 584 C754.52 585.68 752.73 587.42 750.9 588.8 C749.07 590.18 746.9 591.32 745 592.3 C743.1 593.28 740.42 594.3 739.5 594.7" stroke-width="1.68" />
<path d="M734.5 566 C734 567.17 732.15 570.5 731.5 573 C730.85 575.5 730.52 578.33 730.6 581 C730.68 583.67 731.1 586.67 732 589 C732.9 591.33 735.33 594 736 595" stroke-width="2.91" />
<path d="M740.1 567.3 C739.62 568.42 737.83 571.68 737.2 574 C736.57 576.32 736.33 578.87 736.3 581.2 C736.27 583.53 736.57 585.78 737 588 C737.43 590.22 738.58 593.42 738.9 594.5" stroke-width="1.46" />
<path d="M733.8 565.6 L727 567 Q721.3 568.3 721.2 574 V589 Q721.4 595.6 727 595.9 L736 595.2" stroke-width="1.57" />
<path d="M678 552.8 H698 Q702.8 553 702.8 557.5 V563.5 Q702.8 567.8 698 568 H680" stroke-width="1.46" />
<path d="M674 570.4 H721.5" stroke-width="1.79" />
<path d="M676 590.7 H721.5" stroke-width="1.57" />
</g>
<g>
<rect x="170.2" y="148.6" width="72.3" height="48" fill="#fff" stroke="#221f1f" stroke-width="1.2"/>
<text class="t"><tspan x="182.61" y="185.7" textLength="17.53" lengthAdjust="spacingAndGlyphs">L</tspan><tspan class="s" x="199.39" y="187.4">＋</tspan></text>
<rect x="432.6" y="59.6" width="72.4" height="48" fill="#fff" stroke="#221f1f" stroke-width="1.2"/>
<text class="t"><tspan x="445.1" y="94.3" textLength="16.1" lengthAdjust="spacingAndGlyphs">S</tspan><tspan class="s" x="460.74" y="96.1">－</tspan></text>
<rect x="1036" y="148.6" width="72.4" height="48" fill="#fff" stroke="#221f1f" stroke-width="1.2"/>
<text class="t"><tspan x="1050.41" y="182.7" textLength="17.53" lengthAdjust="spacingAndGlyphs">L</tspan><tspan class="s" x="1067.29" y="184.1">－</tspan></text>
<rect x="170.2" y="679.5" width="72.3" height="47.9" fill="#fff" stroke="#221f1f" stroke-width="1.2"/>
<text class="t"><tspan x="182.08" y="716" textLength="16.91" lengthAdjust="spacingAndGlyphs">R</tspan><tspan class="s" x="198.29" y="717.7">＋</tspan></text>
<rect x="421.1" y="759.8" width="72.5" height="48.1" fill="#fff" stroke="#221f1f" stroke-width="1.2"/>
<text class="t"><tspan x="435.1" y="795.3" textLength="16.1" lengthAdjust="spacingAndGlyphs">S</tspan><tspan class="s" x="450.89" y="797.4">＋</tspan></text>
<rect x="1035.8" y="679.5" width="72.6" height="47.9" fill="#fff" stroke="#221f1f" stroke-width="1.2"/>
<text class="t"><tspan x="1049.88" y="715.5" textLength="16.91" lengthAdjust="spacingAndGlyphs">R</tspan><tspan class="s" x="1066.29" y="717.1">－</tspan></text>
</g>
</svg>
</body></html>
